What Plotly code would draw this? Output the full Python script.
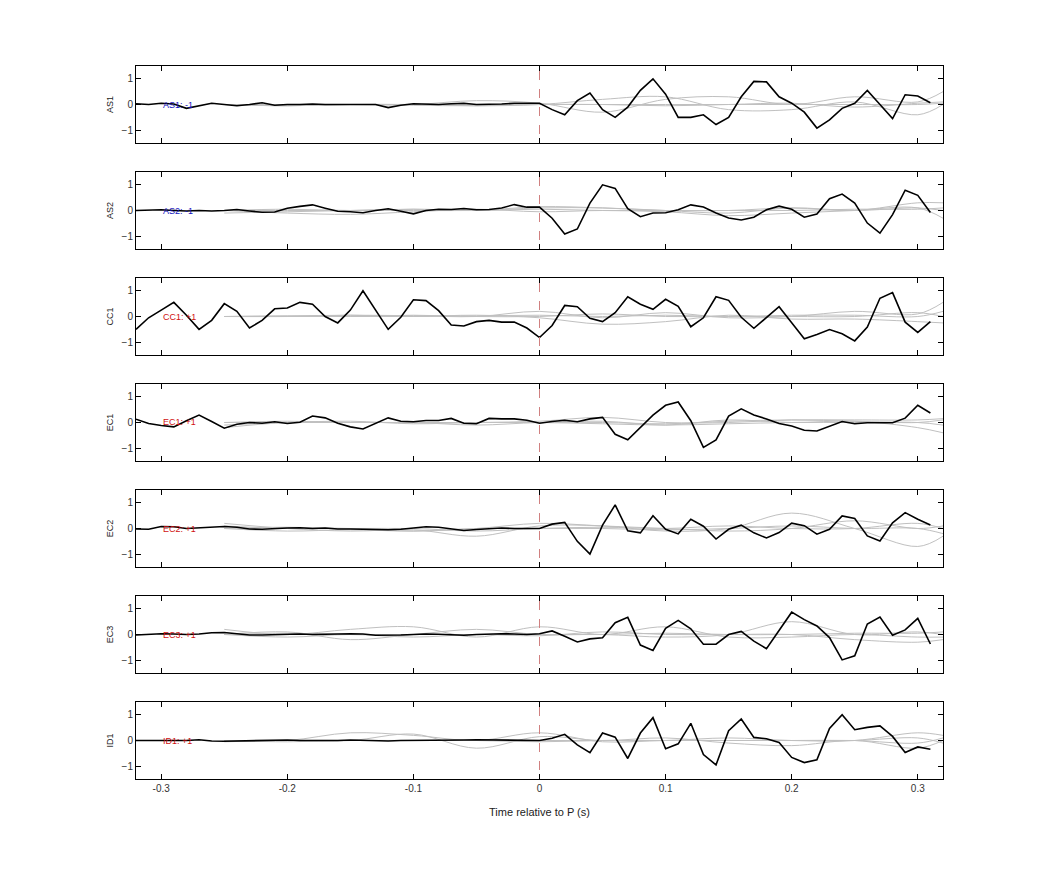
import plotly.graph_objects as go

channels = ["AS1", "AS2", "CC1", "EC1", "EC2", "EC3", "ID1"]
labels = ["AS1: -1", "AS2: -1", "CC1: +1", "EC1: +1", "EC2: +1", "EC3: +1", "ID1: +1"]
label_colors = ["#1010c0", "#1010c0", "#d01010", "#d01010", "#d01010", "#d01010", "#d01010"]

times = [round(-0.32 + 0.01 * i, 2) for i in range(64)]

AS1 = [0.03, 0.0, 0.05, 0.02, -0.15, -0.05, 0.05, 0.0, -0.05, 0.0, 0.07, -0.03, 0.0, 0.0, 0.02, 0.0, 0.0, 0.0, -0.02, 0.0, -0.12, -0.03, 0.03, 0.02, 0.0, 0.03, 0.05, 0.0, 0.0, 0.02, 0.05, 0.05,
       0.05, -0.2, -0.4, 0.15, 0.45, -0.2, -0.5, -0.1, 0.55, 1.0, 0.4, -0.5, -0.5, -0.4, -0.78, -0.5, 0.3, 0.9, 0.88, 0.3, 0.05, -0.3, -0.92, -0.6, -0.15, 0.05, 0.55, 0.0, -0.55, 0.38, 0.33, 0.07]
AS2 = [0.0, 0.02, 0.03, 0.0, -0.02, 0.0, -0.02, 0.0, 0.04, -0.02, -0.07, -0.06, 0.09, 0.16, 0.22, 0.09, -0.03, -0.05, -0.09, 0.0, 0.07, -0.03, -0.13, 0.0, 0.05, 0.04, 0.08, 0.03, 0.04, 0.1, 0.23, 0.13,
       0.13, -0.3, -0.92, -0.72, 0.29, 1.0, 0.86, 0.07, -0.24, -0.1, -0.09, 0.03, 0.22, 0.14, -0.1, -0.29, -0.37, -0.26, 0.03, 0.17, 0.05, -0.26, -0.14, 0.46, 0.64, 0.29, -0.49, -0.88, -0.16, 0.79, 0.59, -0.08]
CC1 = [-0.5, -0.05, 0.25, 0.55, 0.05, -0.5, -0.15, 0.5, 0.2, -0.45, -0.15, 0.3, 0.33, 0.55, 0.48, 0.0, -0.25, 0.25, 1.0, 0.25, -0.5, -0.03, 0.65, 0.62, 0.23, -0.33, -0.37, -0.2, -0.15, -0.22, -0.22, -0.45,
       -0.82, -0.35, 0.43, 0.38, -0.07, -0.2, 0.15, 0.77, 0.48, 0.28, 0.67, 0.4, -0.4, -0.05, 0.77, 0.63, -0.03, -0.46, -0.04, 0.38, -0.24, -0.87, -0.7, -0.51, -0.67, -0.95, -0.41, 0.71, 0.93, -0.22, -0.62, -0.2]
EC1 = [0.13, -0.04, -0.12, -0.17, 0.07, 0.29, 0.04, -0.22, -0.07, 0.0, -0.03, 0.03, -0.04, 0.01, 0.25, 0.18, -0.03, -0.17, -0.25, -0.03, 0.18, 0.05, 0.03, 0.08, 0.08, 0.16, -0.03, -0.05, 0.16, 0.14, 0.14, 0.09,
       -0.03, 0.04, 0.09, 0.03, 0.14, 0.2, -0.46, -0.67, -0.17, 0.29, 0.67, 0.8, 0.07, -0.97, -0.68, 0.25, 0.53, 0.29, 0.14, -0.04, -0.14, -0.3, -0.33, -0.13, 0.04, -0.05, -0.01, -0.01, -0.01, 0.17, 0.67, 0.37]
EC2 = [-0.02, -0.03, 0.08, 0.07, 0.0, 0.02, 0.05, 0.08, 0.05, -0.02, -0.03, 0.0, 0.02, 0.03, 0.0, 0.02, -0.02, -0.02, -0.03, -0.05, -0.05, -0.03, 0.03, 0.07, 0.05, -0.02, -0.08, -0.04, 0.0, 0.02, 0.0, -0.01,
       0.0, 0.17, 0.24, -0.5, -1.0, 0.13, 0.92, -0.09, -0.17, 0.5, -0.03, -0.21, 0.36, 0.09, -0.41, -0.03, 0.13, -0.17, -0.37, -0.16, 0.21, 0.11, -0.22, -0.03, 0.49, 0.39, -0.29, -0.49, 0.22, 0.62, 0.36, 0.14]
EC3 = [-0.02, 0.0, 0.03, 0.02, 0.0, 0.02, 0.07, 0.08, 0.03, -0.02, -0.02, 0.0, 0.0, 0.02, 0.0, 0.0, 0.02, 0.03, 0.02, -0.03, -0.03, -0.02, 0.0, 0.02, 0.01, -0.02, -0.03, 0.0, 0.02, 0.03, 0.02, 0.0,
       0.03, 0.14, -0.07, -0.29, -0.17, -0.13, 0.46, 0.67, -0.41, -0.62, 0.24, 0.55, 0.22, -0.38, -0.38, 0.0, 0.12, -0.26, -0.55, 0.18, 0.87, 0.58, 0.33, -0.12, -0.99, -0.83, 0.41, 0.68, -0.03, 0.18, 0.63, -0.37]
ID1 = [0.0, 0.0, 0.0, 0.02, 0.0, 0.03, -0.02, -0.03, -0.02, 0.0, 0.02, 0.03, 0.02, 0.0, 0.0, -0.02, 0.0, 0.02, 0.0, 0.0, -0.02, 0.0, 0.0, 0.02, 0.0, 0.0, 0.02, 0.03, 0.02, 0.03, 0.02, 0.0,
       0.0, 0.09, 0.24, -0.17, -0.47, 0.29, 0.13, -0.7, 0.29, 0.89, -0.32, -0.13, 0.67, -0.55, -0.95, 0.38, 0.84, 0.12, 0.07, -0.08, -0.66, -0.86, -0.75, 0.47, 1.0, 0.42, 0.51, 0.57, 0.16, -0.47, -0.25, -0.34]
series = [AS1, AS2, CC1, EC1, EC2, EC3, ID1]

# smooth gray reference curves (knots, drawn with spline)
gray_t = [-0.25, -0.2, -0.15, -0.1, -0.05, 0.0, 0.05, 0.1, 0.15, 0.2, 0.25, 0.3, 0.32]
gray_sets = [
    [[0, 0, 0, 0.0, 0.15, 0.05, -0.3, 0.2, 0.3, 0.0, 0.3, 0.1, 0.5],
     [0, -0.05, 0, 0.0, -0.05, 0.0, 0.2, 0.3, -0.2, -0.2, 0.1, -0.4, 0.0],
     [0, 0, 0, 0, 0, 0, 0, 0, 0, 0, 0, 0, 0.05],
     [0, -0.05, 0, -0.03, -0.05, 0.0, 0.0, -0.05, 0.0, 0.05, -0.1, 0.05, 0.1]],
    [[-0.1, -0.05, 0.0, 0.05, 0.0, 0.15, 0.1, 0.0, 0.0, 0.1, 0.0, 0.3, 0.3],
     [0, -0.1, -0.15, -0.05, 0.05, -0.05, 0.0, -0.05, -0.2, -0.1, 0.0, 0.1, -0.3],
     [0, 0, 0, 0, 0, 0.05, 0.0, 0.0, 0.0, 0.0, 0.05, 0.05, 0.1],
     [0, 0.05, 0, 0.05, 0.0, 0.1, 0.1, 0.0, -0.1, 0.1, 0.0, 0.1, 0.0]],
    [[0, 0.02, 0.05, 0.03, 0.0, 0.2, -0.05, 0.15, -0.05, 0.0, 0.2, 0.1, 0.55],
     [0, 0.0, 0.05, 0.0, 0.05, -0.05, -0.3, -0.2, 0.05, -0.1, -0.1, -0.2, -0.25],
     [0, 0.02, 0.0, 0.05, 0.0, 0.0, 0.1, 0.0, 0.0, 0.0, 0.0, 0.15, 0.0],
     [0, 0, 0.0, 0.0, 0.02, 0.05, 0.0, 0.05, 0.0, 0.05, 0.05, 0.0, 0.2]],
    [[-0.2, 0.0, 0.0, 0.0, 0.0, 0.05, 0.2, 0.0, 0.0, 0.1, 0.1, 0.1, 0.15],
     [-0.1, 0.0, 0.05, -0.05, 0.0, 0.0, 0.05, -0.1, 0.1, 0.0, 0.05, -0.2, -0.4],
     [0, 0, 0, 0, 0, 0, -0.05, -0.1, -0.05, 0.0, 0.0, 0.0, -0.1],
     [0, 0.05, 0.0, 0.0, -0.1, 0.0, 0.0, -0.05, 0.05, 0.1, 0.05, 0.0, 0.1]],
    [[0.2, 0.0, -0.1, -0.05, -0.3, 0.1, 0.1, -0.1, 0.0, 0.6, 0.0, -0.7, -0.3],
     [0.1, 0.0, 0.0, -0.1, 0.0, 0.2, 0.1, 0.0, -0.1, 0.0, 0.3, 0.0, 0.1],
     [0, -0.1, -0.05, -0.1, 0.0, 0.0, 0.0, -0.05, 0.0, 0.1, 0.0, 0.0, -0.2],
     [0, 0.05, 0.0, 0.0, -0.1, 0.0, 0.05, 0.0, 0.1, 0.0, 0.0, 0.2, 0.0]],
    [[0.2, 0.0, 0.2, 0.3, -0.1, 0.3, 0.0, 0.3, -0.1, -0.1, 0.0, -0.1, -0.1],
     [0.0, 0.1, -0.2, 0.0, 0.2, 0.0, 0.0, -0.1, 0.0, 0.5, 0.0, 0.1, 0.0],
     [0, -0.1, 0.0, -0.1, 0.0, -0.05, 0.1, 0.0, 0.0, 0.0, -0.2, -0.3, -0.2],
     [0, 0.05, 0.0, 0.0, 0.0, 0.0, 0.0, 0.05, 0.0, 0.0, 0.05, 0.05, 0.1]],
    [[0, 0.0, 0.3, 0.2, 0.0, 0.3, -0.05, 0.0, 0.0, 0.0, 0.0, 0.3, 0.2],
     [0, 0.0, 0.0, 0.25, -0.3, 0.15, 0.0, 0.1, -0.1, -0.2, 0.0, -0.3, 0.0],
     [-0.05, 0.0, 0.0, 0.0, 0.0, -0.05, 0.0, 0.0, 0.0, 0.0, 0.0, -0.1, 0.1],
     [0, -0.05, 0.0, 0.0, 0.0, 0.0, 0.0, 0.0, 0.1, 0.0, 0.0, 0.1, -0.1]],
]

x_ticks = [-0.3, -0.2, -0.1, 0, 0.1, 0.2, 0.3]
x_ticklabels = ["-0.3", "-0.2", "-0.1", "0", "0.1", "0.2", "0.3"]
y_ticks = [-1, 0, 1]

W, H = 1042, 875
# page has 8px body margin; figure coordinates = page coordinates - 8
ml, mr, mt, mb = 128, 107, 58, 104
plot_h = H - mt - mb
panel_tops = [58, 164, 270, 376, 482, 588, 694]
panel_h = 77

fig = go.Figure()
n = len(channels)
for i in range(n):
    ax = "" if i == 0 else str(i + 1)
    for g in gray_sets[i]:
        fig.add_trace(go.Scatter(x=gray_t, y=g, mode="lines", line=dict(color="#c0c0c0", width=1, shape="spline", smoothing=1.0),
                                 xaxis="x" + ax, yaxis="y" + ax, showlegend=False, hoverinfo="skip"))
    fig.add_trace(go.Scatter(x=times, y=series[i], mode="lines", line=dict(color="black", width=1.6),
                             xaxis="x" + ax, yaxis="y" + ax, showlegend=False))
    top = 1 - (panel_tops[i] - mt) / plot_h
    bot = 1 - (panel_tops[i] + panel_h - mt) / plot_h
    common = dict(showline=True, linecolor="black", linewidth=1, mirror="ticks", ticks="inside", ticklen=5,
                  showgrid=False, zeroline=False, tickcolor="black", tickfont=dict(family="Liberation Sans", size=10, color="#333"))
    fig.layout["xaxis" + ax] = dict(domain=[0, 1], range=[-0.32, 0.32], tickvals=x_ticks, ticktext=x_ticklabels,
                                    showticklabels=(i == n - 1), anchor="y" + ax, **common)
    fig.layout["yaxis" + ax] = dict(domain=[max(bot, 0), min(top, 1)], range=[-1.5, 1.5], tickvals=y_ticks, anchor="x" + ax,
                                    title=dict(text=channels[i], font=dict(family="Liberation Sans", size=9, color="#222"), standoff=6),
                                    **common)
    fig.add_shape(type="line", x0=0, x1=0, y0=-1.15, y1=1.5, xref="x" + ax, yref="y" + ax,
                  line=dict(color="#d08080", width=1, dash="dash"))
    fig.add_annotation(x=-0.3, y=0, xref="x" + ax, yref="y" + ax, text=labels[i], showarrow=False, xanchor="left",
                       font=dict(family="Liberation Sans", size=9, color=label_colors[i]))

fig.layout["xaxis" + str(n)].title = dict(text="Time relative to P (s)", font=dict(family="Liberation Sans", size=11, color="#222"))
fig.update_layout(width=W, height=H, margin=dict(l=ml, r=mr, t=mt, b=mb), plot_bgcolor="white", paper_bgcolor="white")
fig.write_html("out.html")
